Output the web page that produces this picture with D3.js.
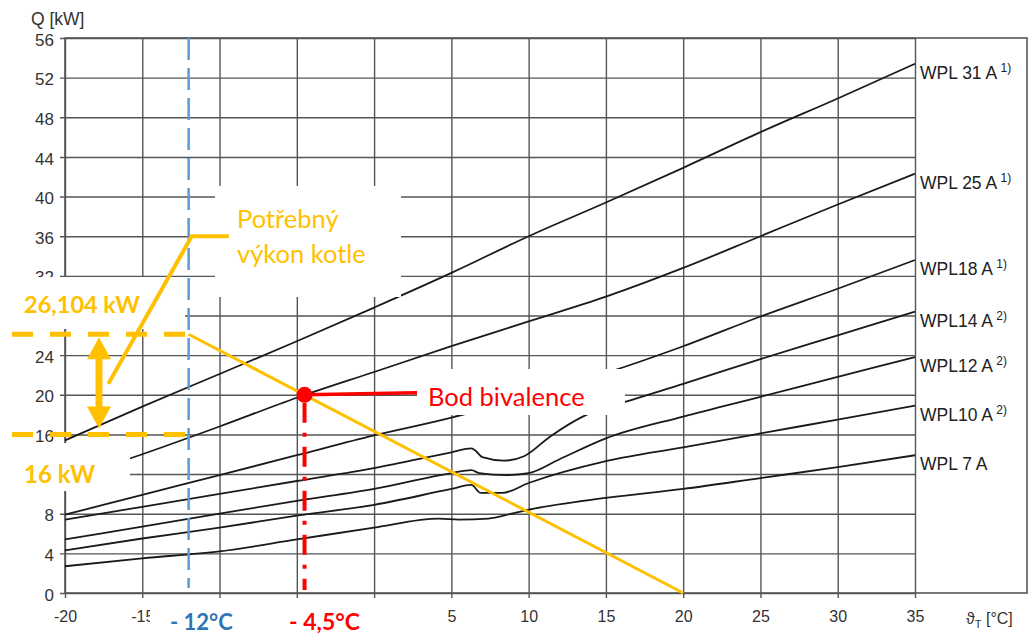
<!DOCTYPE html>
<html>
<head>
<meta charset="utf-8">
<script src="https://cdn.jsdelivr.net/npm/d3@7"></script>
<style>
  html, body { margin: 0; padding: 0; background: #fff; }
  svg { display: block; }
</style>
</head>
<body>
<svg id="chart" width="1032" height="636"></svg>
<script>
// ---------- data ----------
const xTicks = [-20, -15, -10, -5, 0, 5, 10, 15, 20, 25, 30, 35];
const yTicks = [0, 4, 8, 12, 16, 20, 24, 28, 32, 36, 40, 44, 48, 52, 56];
// tick labels hidden behind the annotation boxes in the original
const xHiddenLabels = [-10, -5, 0];
const yHiddenLabels = [12, 28];

const seriesNames = ["WPL 31 A", "WPL 25 A", "WPL18 A", "WPL14 A", "WPL12 A", "WPL10 A", "WPL 7 A"];
const seriesNotes = ["1)", "1)", "1)", "2)", "2)", "2)", ""];

const wpl31T = [-20, -15, -10, -5, 0, 5, 10, 15, 20, 25, 30, 35];
const wpl31Q = [15.4, 18.8, 22.1, 25.4, 28.8, 32.3, 36.0, 39.4, 42.9, 46.5, 49.9, 53.4];

const wpl25T = [-20, -15, -10, -5, 0, 5, 10, 15, 20, 25, 30, 35];
const wpl25Q = [11.4, 14.0, 16.8, 19.7, 22.3, 24.9, 27.4, 29.9, 32.8, 36.0, 39.2, 42.3];

const wpl18T = [-20, -15, -10, -5, 0, 5, 10, 15, 20, 25, 30, 35];
const wpl18Q = [7.9, 9.9, 11.9, 13.9, 15.9, 17.7, 19.9, 22.2, 24.9, 27.9, 30.7, 33.6];

const wpl14T = [-20, -15, -10, -5, 0, 5, 6.3, 6.6, 7.0, 8.4, 9.7, 11.4, 13.5, 16.3, 20, 25, 30, 35];
const wpl14Q = [7.4, 8.7, 10.0, 11.3, 12.6, 14.2, 14.6, 14.3, 13.7, 13.35, 13.8, 15.8, 17.8, 19.3, 21.1, 23.6, 26.0, 28.4];

const wpl12T = [-20, -15, -10, -5, 0, 5, 6.3, 6.8, 8.5, 10, 12, 15, 20, 25, 30, 35];
const wpl12Q = [5.4, 6.7, 8.0, 9.3, 10.5, 12.1, 12.4, 12.1, 11.9, 12.1, 13.5, 15.6, 17.8, 19.8, 21.8, 23.8];

const wpl10T = [-20, -15, -10, -5, 0, 5, 6.3, 6.9, 8.3, 10, 15, 20, 25, 30, 35];
const wpl10Q = [4.3, 5.5, 6.6, 7.8, 8.9, 10.5, 10.9, 10.1, 10.1, 11.1, 13.3, 14.7, 16.1, 17.5, 18.9];

const wpl7T = [-20, -15, -10, -5, 0, 4.2, 5.5, 7.4, 8.9, 10, 15, 20, 25, 30, 35];
const wpl7Q = [2.7, 3.5, 4.2, 5.4, 6.6, 7.5, 7.4, 7.5, 8.0, 8.4, 9.6, 10.5, 11.6, 12.7, 13.9];

const seriesT = [wpl31T, wpl25T, wpl18T, wpl14T, wpl12T, wpl10T, wpl7T];
const seriesQ = [wpl31Q, wpl25Q, wpl18Q, wpl14Q, wpl12Q, wpl10Q, wpl7Q];

// annotation values
const designTemp = -12;          // °C
const bivalenceTemp = -4.5;      // °C
const bivalenceQ = 20;           // kW
const requiredQ = 26.104;        // kW
const minQ = 16;                 // kW
const heatingLimitTemp = 20;     // °C
const leaderT = [-17.2, -11.8, -9.4];
const leaderQ = [21.1, 36, 36];

// ---------- layout ----------
const svg = d3.select("#chart");
const x = d3.scaleLinear().domain([-20, 35]).range([65, 915]);
const y = d3.scaleLinear().domain([0, 56]).range([593, 38]);
const frameRight = 1027;
const gridColor = "#555";
const orange = "#FFC000";
const red = "#FF0000";
const tickFont = "'Liberation Sans', Arial, sans-serif";
const annoFont = "Lato, 'Open Sans', sans-serif";

// y axis grid + labels
const yAxis = d3.axisLeft(y).tickValues(yTicks)
  .tickFormat(d => yHiddenLabels.includes(d) ? "" : String(d))
  .tickSize(-(x(35) - x(-20) + 5)).tickPadding(6);
const gy = svg.append("g").attr("transform", `translate(${x(-20) - 5},0)`).call(yAxis);
gy.select(".domain").remove();
gy.selectAll(".tick line").attr("stroke", gridColor).attr("stroke-width", 1.4);
gy.selectAll(".tick text").attr("fill", "#333").attr("dy", "0.42em")
  .style("font-family", tickFont).style("font-size", "17px");

// x axis grid + labels
const xAxis = d3.axisBottom(x).tickValues(xTicks)
  .tickFormat(d => xHiddenLabels.includes(d) ? "" : String(d))
  .tickSize(-(y(0) - y(56) + 5)).tickPadding(13);
const gx = svg.append("g").attr("transform", `translate(0,${y(0) + 5})`).call(xAxis);
gx.select(".domain").remove();
gx.selectAll(".tick line").attr("stroke", gridColor).attr("stroke-width", 1.4);
gx.selectAll(".tick text").attr("fill", "#333").style("font-family", tickFont).style("font-size", "16px");

// frame (extends over the label column)
svg.append("rect").attr("x", x(-20)).attr("y", y(56))
  .attr("width", frameRight - x(-20)).attr("height", y(0) - y(56))
  .attr("fill", "none").attr("stroke", gridColor).attr("stroke-width", 1.6);

// axis titles
svg.append("text").attr("x", 31).attr("y", 25).text("Q [kW]")
  .attr("fill", "#333").style("font-family", tickFont).style("font-size", "17.5px");
const tt = svg.append("text").attr("x", 966).attr("y", 624)
  .attr("fill", "#333").style("font-family", tickFont).style("font-size", "16px");
tt.append("tspan").text("ϑ");
tt.append("tspan").text("T").attr("dy", 4).style("font-size", "11px");
tt.append("tspan").text(" [°C]").attr("dy", -4);

// curves
const line = d3.line().x(d => x(d[0])).y(d => y(d[1])).curve(d3.curveMonotoneX);
seriesT.forEach((ts, i) => {
  const pts = ts.map((t, j) => [t, seriesQ[i][j]]);
  svg.append("path").datum(pts).attr("d", line)
    .attr("fill", "none").attr("stroke", "#1a1a1a").attr("stroke-width", 1.8);
  const last = pts[pts.length - 1];
  const lbl = svg.append("text").attr("x", x(35) + 5).attr("y", y(last[1]) + 15)
    .attr("fill", "#222").style("font-family", tickFont).style("font-size", "17.5px");
  lbl.append("tspan").text(seriesNames[i]);
  if (seriesNotes[i]) {
    lbl.append("tspan").text(" " + seriesNotes[i]).attr("dy", -7).style("font-size", "12px");
  }
});

// white cover boxes behind annotation texts
const boxes = [
  [0, 277, 185, 52],
  [215, 186, 186, 111],
  [417, 369, 208, 46],
  [0, 443, 130, 48],
  [150, 599, 270, 37]
];
boxes.forEach(b => svg.append("rect").attr("x", b[0]).attr("y", b[1])
  .attr("width", b[2]).attr("height", b[3]).attr("fill", "#fff"));

// blue design temperature line
svg.append("line").attr("x1", x(designTemp)).attr("x2", x(designTemp))
  .attr("y1", y(56)).attr("y2", y(0.5))
  .attr("stroke", "#5B9BD5").attr("stroke-width", 2.5).attr("stroke-dasharray", "22,8");

// orange load line
svg.append("line").attr("x1", x(designTemp)).attr("y1", y(requiredQ))
  .attr("x2", x(heatingLimitTemp)).attr("y2", y(0))
  .attr("stroke", orange).attr("stroke-width", 3);

// orange dashed levels
[requiredQ, minQ].forEach(q => {
  svg.append("line").attr("x1", 12).attr("x2", x(designTemp) - 3)
    .attr("y1", y(q)).attr("y2", y(q))
    .attr("stroke", orange).attr("stroke-width", 5).attr("stroke-dasharray", "21,17");
});

// double arrow
const ax = x(-17.8);
svg.append("line").attr("x1", ax).attr("x2", ax).attr("y1", y(requiredQ) + 15).attr("y2", y(minQ) - 15)
  .attr("stroke", orange).attr("stroke-width", 7);
svg.append("path").attr("d", `M${ax},${y(requiredQ) + 3} L${ax - 12},${y(requiredQ) + 25} L${ax + 12},${y(requiredQ) + 25} Z`).attr("fill", orange);
svg.append("path").attr("d", `M${ax},${y(minQ) - 6} L${ax - 12},${y(minQ) - 28} L${ax + 12},${y(minQ) - 28} Z`).attr("fill", orange);

// leader line
svg.append("path").datum(leaderT.map((t, i) => [t, leaderQ[i]]))
  .attr("d", d3.line().x(d => x(d[0])).y(d => y(d[1])))
  .attr("fill", "none").attr("stroke", orange).attr("stroke-width", 4);

// red bivalence
svg.append("line").attr("x1", x(bivalenceTemp)).attr("x2", x(bivalenceTemp))
  .attr("y1", y(bivalenceQ) + 8).attr("y2", y(0.3))
  .attr("stroke", red).attr("stroke-width", 4).attr("stroke-dasharray", "20,10,4,10");
svg.append("line").attr("x1", x(bivalenceTemp)).attr("y1", y(bivalenceQ))
  .attr("x2", 417).attr("y2", y(bivalenceQ) - 2)
  .attr("stroke", red).attr("stroke-width", 3.5);
svg.append("circle").attr("cx", x(bivalenceTemp)).attr("cy", y(bivalenceQ)).attr("r", 8).attr("fill", red);

// annotation texts
function anno(tx, ty, str, color, size, weight) {
  svg.append("text").attr("x", tx).attr("y", ty).text(str)
    .attr("fill", color).style("font-family", annoFont)
    .style("font-size", size + "px").style("font-weight", weight);
}
anno(237, 228, "Potřebný", orange, 25.5, 400);
anno(237, 263, "výkon kotle", orange, 25.5, 400);
anno(24, 313, "26,104 kW", orange, 23.5, 700);
anno(24, 483, "16 kW", orange, 24, 700);
anno(428, 406, "Bod bivalence", red, 25.5, 400);
anno(170, 630, "- 12°C", "#2E75B6", 22, 700);
anno(289, 630, "- 4,5°C", red, 23, 700);
</script>
</body>
</html>
